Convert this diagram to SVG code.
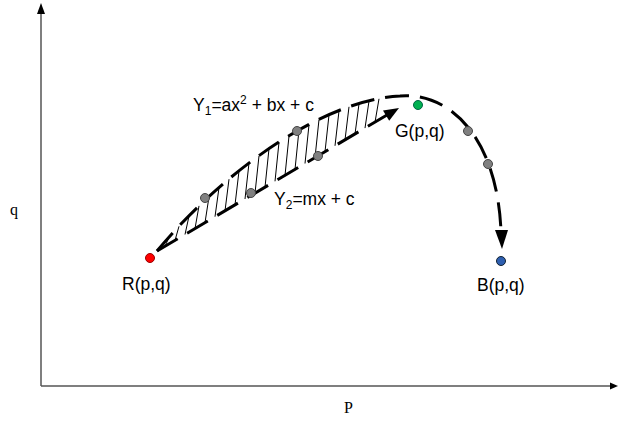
<svg xmlns="http://www.w3.org/2000/svg" width="618" height="422" viewBox="0 0 618 422">
<style>
.axis{stroke:#555;stroke-width:1.5;fill:none}
.thick{stroke:#000;stroke-width:3;fill:none;stroke-dasharray:24 11}
.hatch{stroke:#000;stroke-width:1;fill:none}
.lbl{font-family:"Liberation Sans",Arial,sans-serif;font-size:17.5px;fill:#000}
.ax{font-family:"Liberation Serif","Times New Roman",serif;font-size:16px;fill:#000}
.gray{fill:#808080;stroke:#444;stroke-width:1}
</style>
<rect width="618" height="422" fill="#fff"/>
<g id="axes">
<line class="axis" x1="41" y1="386" x2="41" y2="12"/>
<polygon points="41,3 37,14 45,14" fill="#000"/>
<line class="axis" x1="41" y1="386" x2="611" y2="386"/>
<polygon points="618,386 610,382.5 610,389.5" fill="#000"/>
<text class="ax" x="10" y="215">q</text>
<text class="ax" x="344" y="413">P</text>
</g>
<g id="connectors">
<path class="thick" d="M157,251 C220,175 320,100 400,96 C448,92 497,135 501,231"/>
<polygon points="495,230 508,230 502,249" fill="#000"/>
<path class="thick" d="M157,251 L387,115"/>
<polygon points="399,108 383,110.5 389.2,120.8" fill="#000"/>
<g class="hatch">
<line x1="165" y1="246.3" x2="169" y2="237.4"/>
<line x1="175" y1="240.4" x2="179" y2="226.3"/>
<line x1="185" y1="234.5" x2="189" y2="216.1"/>
<line x1="195" y1="228.5" x2="199" y2="205.9"/>
<line x1="205" y1="222.6" x2="209" y2="196.8"/>
<line x1="215" y1="216.7" x2="219" y2="187.7"/>
<line x1="225" y1="210.8" x2="229" y2="179.2"/>
<line x1="235" y1="204.9" x2="239" y2="171.0"/>
<line x1="245" y1="199.0" x2="249" y2="163.0"/>
<line x1="255" y1="193.1" x2="259" y2="155.9"/>
<line x1="265" y1="187.2" x2="269" y2="148.7"/>
<line x1="275" y1="181.3" x2="279" y2="142.2"/>
<line x1="285" y1="175.4" x2="289" y2="136.0"/>
<line x1="295" y1="169.4" x2="299" y2="129.9"/>
<line x1="305" y1="163.5" x2="309" y2="124.7"/>
<line x1="315" y1="157.6" x2="319" y2="119.5"/>
<line x1="325" y1="151.7" x2="329" y2="114.9"/>
<line x1="335" y1="145.8" x2="339" y2="110.9"/>
<line x1="345" y1="139.9" x2="349" y2="106.8"/>
<line x1="355" y1="134.0" x2="359" y2="103.9"/>
<line x1="365" y1="128.1" x2="369" y2="101.1"/>
<line x1="375" y1="122.2" x2="379" y2="98.8"/>
</g>
</g>
<g id="dots">
<circle class="gray" cx="205" cy="198" r="4.5"/>
<circle class="gray" cx="251" cy="193" r="4.5"/>
<circle class="gray" cx="297" cy="131" r="4.5"/>
<circle class="gray" cx="318" cy="156" r="4.5"/>
<circle class="gray" cx="468" cy="131" r="4.5"/>
<circle class="gray" cx="488" cy="164" r="4.5"/>
</g>
<g id="node-R">
<circle cx="150" cy="258" r="4.5" fill="#ff0000" stroke="#900" stroke-width="1"/>
<text class="lbl" x="122" y="290">R(p,q)</text>
</g>
<g id="node-G">
<circle cx="418" cy="105" r="4.5" fill="#00b050" stroke="#064" stroke-width="1"/>
<text class="lbl" x="395" y="137">G(p,q)</text>
</g>
<g id="node-B">
<circle cx="501" cy="261" r="4.5" fill="#2e5fb0" stroke="#123" stroke-width="1"/>
<text class="lbl" x="477" y="291">B(p,q)</text>
</g>
<g id="label-Y1">
<text class="lbl" x="193" y="111">Y<tspan font-size="12" dy="4">1</tspan><tspan dy="-4">=ax</tspan><tspan font-size="12" dy="-7">2</tspan><tspan dy="7"> + bx + c</tspan></text>
</g>
<g id="label-Y2">
<text class="lbl" x="274" y="205">Y<tspan font-size="12" dy="4">2</tspan><tspan dy="-4">=mx + c</tspan></text>
</g>
</svg>
